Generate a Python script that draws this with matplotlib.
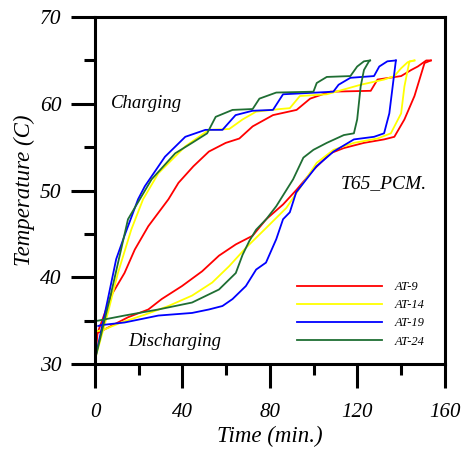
import matplotlib
matplotlib.use("Agg")
import matplotlib.pyplot as plt
from matplotlib.ticker import MultipleLocator

# charging curves (time min, temperature C)
ch9_t = [0, 1.2, 7.4, 13.5, 18.2, 24.4, 33.6, 38.2, 45, 52.1, 59.8, 66, 72.1, 81.4, 92.2, 98.4, 107.6, 126.1, 129.2, 140, 144.6, 147.6, 151.5, 153.6]
ch9_y = [30.5, 33.6, 37.9, 40.5, 43.2, 45.9, 49, 50.9, 52.8, 54.5, 55.5, 56, 57.4, 58.7, 59.3, 60.6, 61.4, 61.5, 62.8, 63.2, 63.9, 64.3, 65, 65]
ch14_t = [0, 5.9, 10.5, 16.6, 22, 29, 41.3, 52.1, 61.4, 67.5, 73.7, 84.5, 89.1, 93.7, 106, 121.5, 132.2, 136.9, 140, 143, 146.1]
ch14_y = [30.5, 35.9, 40.5, 45.5, 49, 52, 55.1, 57, 57.1, 58.2, 59.1, 59.4, 59.5, 60.9, 61.1, 62.2, 62.8, 63.2, 64.1, 64.8, 65]
ch19_t = [0, 5.9, 9.7, 13.5, 19.7, 22.8, 32, 41.3, 50.5, 58.3, 64.3, 72, 81.4, 86, 109, 111.4, 116.8, 127.6, 130, 133.7, 137.6]
ch19_y = [30.5, 37.5, 42.1, 44.8, 49, 50.5, 53.9, 56.2, 57, 57, 58.7, 59.2, 59.3, 61.1, 61.4, 62.2, 63, 63.2, 64.3, 64.9, 65]
ch24_t = [0, 7.4, 15.1, 25.9, 36.7, 44.4, 51.3, 55.2, 62.9, 72.1, 75.2, 82.9, 99.9, 101.4, 106, 116.8, 119.9, 123, 125.8]
ch24_y = [30.5, 38.2, 46.7, 51.3, 54.3, 55.5, 56.6, 58.5, 59.3, 59.4, 60.6, 61.3, 61.4, 62.4, 63.1, 63.2, 64.3, 64.9, 65]

# discharging curves
dc9_t = [1.2, 2.8, 7.4, 15.1, 24.4, 30.5, 39.8, 49, 56.7, 64.4, 72.1, 78.3, 86, 92.2, 99.9, 107.6, 113.8, 123, 132.2, 136.9, 141.5, 146.1, 150.7, 153.6]
dc9_y = [33.6, 33.8, 34.4, 35.4, 36.3, 37.5, 39, 40.7, 42.5, 43.8, 44.8, 46.7, 48.4, 50.1, 52.4, 54.3, 54.9, 55.5, 55.9, 56.2, 58.2, 60.9, 64.7, 65]
dc14_t = [1.2, 4.3, 12, 22.8, 33.6, 44.4, 53.6, 61.4, 69, 78.3, 87.5, 95.3, 101.4, 109.1, 118.4, 129.2, 135.3, 140, 141.5, 143.8, 146.1]
dc14_y = [33.8, 34, 34.8, 35.7, 36.7, 37.9, 39.4, 41.3, 43.4, 45.7, 48, 50.9, 53.2, 54.7, 55.5, 56, 56.6, 58.9, 62, 64.9, 65]
dc19_t = [1.5, 2.8, 13.5, 29, 44.4, 52.1, 58.3, 62.9, 69, 73.7, 78.2, 82.9, 86, 89.1, 92, 101.3, 109.1, 118.4, 127.6, 132.2, 134.6, 137.6]
dc19_y = [34.4, 34.5, 34.8, 35.6, 35.9, 36.3, 36.7, 37.5, 39, 40.9, 41.7, 44.4, 46.7, 47.5, 49.8, 52.8, 54.5, 55.9, 56.2, 56.6, 58.9, 65]
dc24_t = [0.5, 1.2, 13.5, 29, 44.4, 56.7, 64.4, 67.5, 70.6, 73.7, 78.3, 82.9, 90.6, 95.3, 99.9, 106, 113.8, 118.4, 119.9, 121.5, 123, 125.3, 125.8]
dc24_y = [35, 35, 35.6, 36.3, 37.1, 38.6, 40.5, 42.6, 44.2, 45.5, 46.7, 48.2, 51.3, 53.8, 54.7, 55.5, 56.4, 56.6, 58.2, 62, 63.9, 64.9, 65]

labels = ["AT-9", "AT-14", "AT-19", "AT-24"]
colors = ["#ff0000", "#ffff00", "#0000ff", "#1f6e33"]

plt.rcParams["font.family"] = ["Liberation Serif", "DejaVu Serif"]

fig = plt.figure(figsize=(4.61, 4.49), dpi=100)
ax = fig.add_axes([0.206, 0.189, 0.759, 0.773])

charging = [(ch9_t, ch9_y), (ch14_t, ch14_y), (ch19_t, ch19_y), (ch24_t, ch24_y)]
discharging = [(dc9_t, dc9_y), (dc14_t, dc14_y), (dc19_t, dc19_y), (dc24_t, dc24_y)]
for (ct, cy), (dt, dy), col, lab in zip(charging, discharging, colors, labels):
    ax.plot(ct, cy, color=col, lw=1.3, label=lab)
    ax.plot(dt, dy, color=col, lw=1.3)

ax.set_xlim(0, 160)
ax.set_ylim(30, 70)
ax.xaxis.set_major_locator(MultipleLocator(40))
ax.xaxis.set_minor_locator(MultipleLocator(20))
ax.yaxis.set_major_locator(MultipleLocator(10))
ax.yaxis.set_minor_locator(MultipleLocator(5))
ax.tick_params(which="major", direction="out", length=17, width=2.2)
ax.tick_params(which="minor", direction="out", length=8, width=2.2)
ax.tick_params(axis="x", which="major", pad=11, labelsize=15)
ax.tick_params(axis="y", which="major", pad=7, labelsize=15.5)
for lab in ax.get_xticklabels() + ax.get_yticklabels():
    lab.set_fontstyle("italic")
for sp in ax.spines.values():
    sp.set_linewidth(2.2)

ax.set_xlabel("Time (min.)", fontsize=16.5, style="italic", labelpad=3)
ax.set_ylabel("Temperature (C)", fontsize=16.5, style="italic", labelpad=4)

ax.text(7.4, 60, "Charging", fontsize=13.5, style="italic", va="center")
ax.text(15, 32.6, "Discharging", fontsize=13.5, style="italic", va="center")
ax.text(112.5, 50.8, "T65_PCM.", fontsize=14, style="italic", va="center")

ax.legend(loc="lower right", bbox_to_anchor=(0.975, 0.015), frameon=False,
          prop={"style": "italic", "size": 9}, handlelength=6.8,
          labelspacing=0.5, handletextpad=1.0)

fig.savefig("out.png", dpi=100)
